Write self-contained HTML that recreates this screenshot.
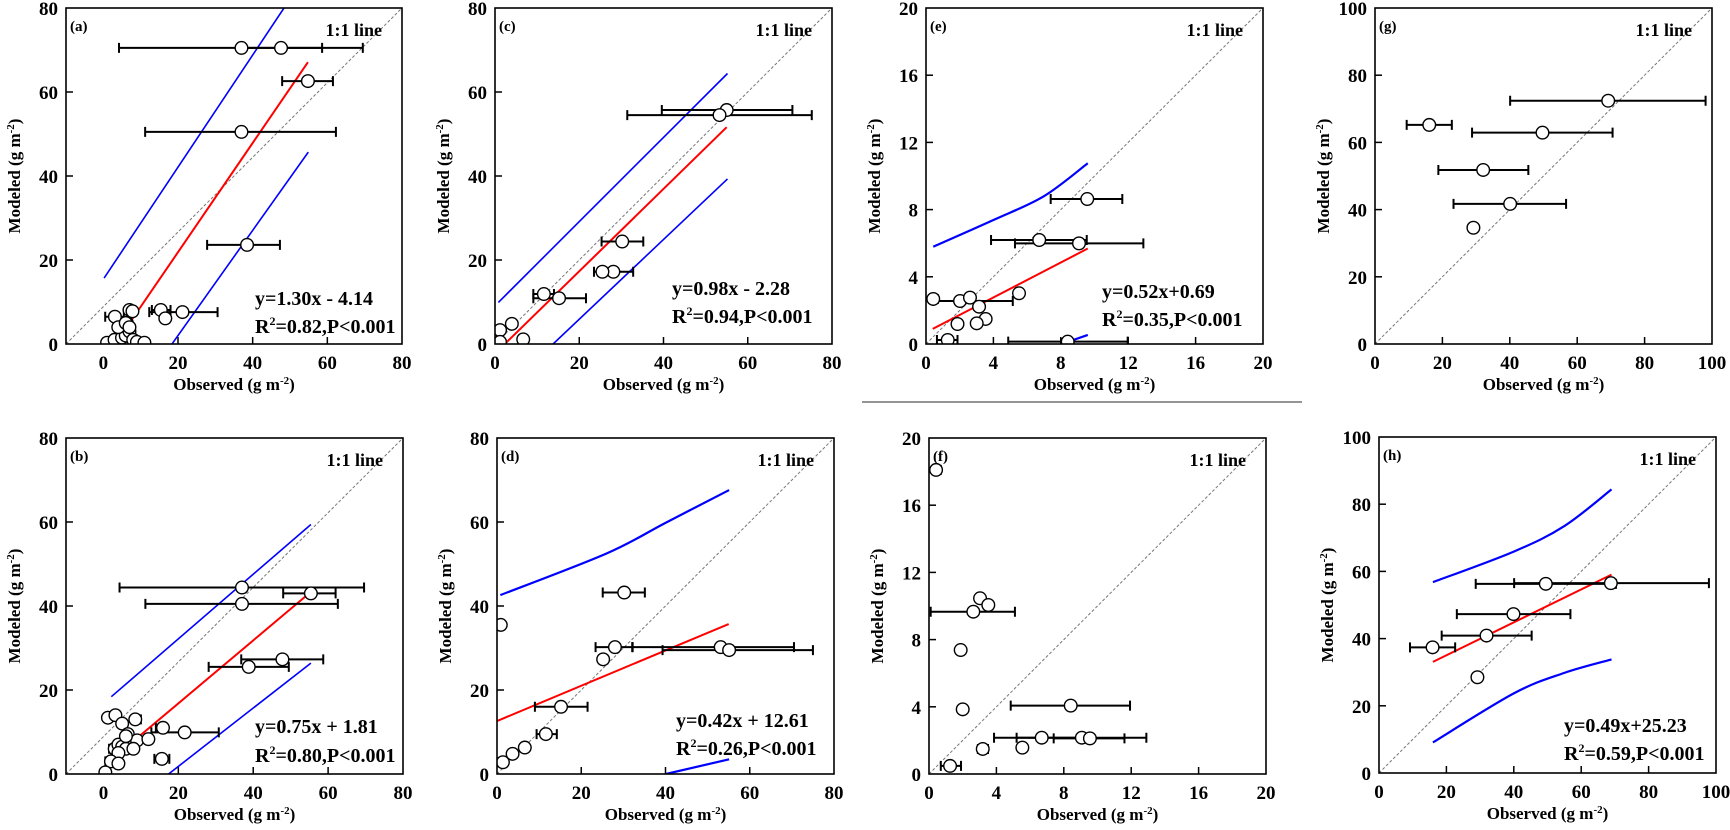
<!DOCTYPE html>
<html><head><meta charset="utf-8">
<style>
body{margin:0;background:#fff;}
svg{display:block;}
svg text{font-family:"Liberation Serif",serif;font-weight:bold;}
</style></head>
<body>
<svg id="fig" width="1730" height="830" viewBox="0 0 1730 830" xmlns="http://www.w3.org/2000/svg" font-family="Liberation Serif, serif" font-weight="bold">
<line x1="862" y1="402" x2="1302" y2="402" stroke="#555" stroke-width="1.2"/>
</svg>
<script>
// ---- data ----
const aObs=[37,47.6,54.8,37,38.5,21.2,15.4,16.6,3.1,7.0,7.8,6.3,1,3,5,6,7,8,9,11,4,6,7];
const aMod=[70.5,70.5,62.6,50.5,23.6,7.6,8.1,6.1,6.5,8.1,7.8,5,0.3,1,1.5,2,3,1,0.5,0.3,4,5,4];
const aLo=[4.2,36.5,47.9,11.2,27.8,12.3,13,null,0.5,null,null,null,null,null,null,null,null,null,null,null,null,null,null];
const aHi=[69.5,58.6,61.5,62.3,47.3,30.6,18,null,5.5,null,null,null,null,null,null,null,null,null,null,null,null,null,null];
const bObs=[37,55.4,37,47.8,38.8,21.7,15.9,15.6,1.2,3.2,5,8.5,6.5,9,12,3,4,5,6,8,4,2,4,0.5,6];
const bMod=[44.4,43,40.5,27.3,25.5,9.9,11,3.6,13.4,14,12,13,9.5,8,8.3,6,7,6.5,6,6,5,3,2.5,0.4,9];
const bLo=[4.3,48,11.2,36.8,28.1,12.8,14,13.6,null,null,null,7.5,null,null,null,1.5,null,null,null,null,null,0.5,null,null,null];
const bHi=[69.6,62,62.6,58.7,49.5,30.8,17,17.6,null,null,null,10,null,null,null,4.5,null,null,null,null,null,3.5,null,null,null];
const cObs=[55,53.3,30.2,28.1,25.5,11.6,15.2,4.0,1.2,6.7,1.2];
const cMod=[55.7,54.5,24.4,17.2,17.2,11.9,10.9,4.8,3.3,1.1,0.5];
const cLo=[39.6,31.4,25.3,23.5,24.5,9.1,9.1,null,null,null,null];
const cHi=[70.6,75.2,35.2,32.8,26.5,14,21.6,null,null,null,null];
const dObs=[30.2,0.9,28.0,53.1,55.1,25.2,15.2,11.6,6.6,3.7,1.4];
const dMod=[43.2,35.5,30.2,30.2,29.5,27.3,16.0,9.5,6.3,4.8,2.8];
const dLo=[25.1,null,23.4,32.2,39.3,24.2,9.0,9.4,null,null,0.4];
const dHi=[35.1,5.3,32.1,70.5,75.0,26.2,21.5,14.2,null,null,2.4];
const eObs=[9.57,6.72,9.08,5.52,0.43,2.02,2.61,3.15,3.54,1.87,3.01,1.29,8.41];
const eMod=[8.63,6.19,5.99,3.02,2.68,2.56,2.76,2.22,1.49,1.19,1.23,0.24,0.14];
const eLo=[7.4,3.86,5.28,5.3,0.2,0.43,null,3.0,null,null,null,0.65,4.88];
const eHi=[11.65,9.54,12.9,5.7,0.7,5.15,null,3.3,null,null,null,1.87,11.97];
const fObs=[0.42,3.03,3.52,2.63,1.88,2.0,8.41,6.69,9.07,9.55,3.19,5.54,1.25];
const fMod=[18.1,10.46,10.06,9.66,7.38,3.85,4.07,2.16,2.16,2.12,1.49,1.57,0.48];
const fLo=[0.2,null,null,0.1,null,null,4.85,3.86,5.2,7.4,2.9,5.4,0.7];
const fHi=[0.7,null,null,5.1,null,null,11.93,9.4,12.9,11.6,3.5,5.7,1.9];
const gObs=[69.2,16.1,49.7,32.1,40.1,29.2];
const gMod=[72.4,65.2,62.9,51.8,41.7,34.6];
const gLo=[40.1,9.4,28.8,18.8,23.3,null];
const gHi=[98.1,22.8,70.5,45.5,56.7,null];
const hObs=[68.8,49.5,39.9,31.9,15.9,29.2];
const hMod=[56.5,56.3,47.3,40.9,37.4,28.5];
const hLo=[40.1,28.7,23.1,18.6,9.2,null];
const hHi=[97.9,70.3,56.8,45.3,22.6,null];
// regression fits: slope, intercept, x range
const fitSlope={a:1.30,b:0.75,c:0.98,d:0.42,e:0.52,h:0.49};
const fitInt={a:-4.14,b:1.81,c:-2.28,d:12.61,e:0.69,h:25.23};
const fitX0={a:3.2,b:2,c:2.3,d:0,e:0.4,h:16};
const fitX1={a:54.8,b:55.4,c:55,d:55,e:9.6,h:69};
// prediction bands (x, y)
const bandUpX={a:[0.2,48.4],b:[2.1,55.4],c:[0.8,55.2],d:[0.8,26,40,55.1],e:[0.43,4,7,9.6],h:[16,40,55,69]};
const bandUpY={a:[15.7,80],b:[18.4,59.4],c:[9.9,64.4],d:[42.6,52.5,59.8,67.6],e:[5.79,7.38,8.8,10.76],h:[56.8,65.9,73.5,84.4]};
const bandLoX={a:[18.4,54.9],b:[17.4,55.4],c:[13.8,55.2],d:[40.1,55.1],e:[8.05,9.6],h:[16,40,55,69]};
const bandLoY={a:[0,45.7],b:[0,26.4],c:[0,39.3],d:[0,3.5],e:[0,0.54],h:[9.1,23.7,29.8,33.8]};
const eqText={a:["y=1.30x - 4.14","0.82"],b:["y=0.75x + 1.81","0.80"],c:["y=0.98x - 2.28","0.94"],d:["y=0.42x + 12.61","0.26"],e:["y=0.52x+0.69","0.35"],h:["y=0.49x+25.23","0.59"]};
const ticksA=[0,20,40,60,80], ticksE=[0,4,8,12,16,20], ticksG=[0,20,40,60,80,100];

// ---- layout ----
const panels=[
 {k:'a',L:66,R:402,T:8,B:344,x0:-10,x1:80,y1:80,xt:ticksA,yt:ticksA,o:aObs,m:aMod,lo:aLo,hi:aHi,eqx:189,eqb:[39,11],bw:1.6},
 {k:'b',L:66,R:403,T:438,B:774,x0:-10,x1:80,y1:80,xt:ticksA,yt:ticksA,o:bObs,m:bMod,lo:bLo,hi:bHi,eqx:189,eqb:[41,12],bw:1.6},
 {k:'c',L:495,R:832,T:8,B:344,x0:0,x1:80,y1:80,xt:ticksA,yt:ticksA,o:cObs,m:cMod,lo:cLo,hi:cHi,eqx:177,eqb:[49,21],bw:1.6},
 {k:'d',L:497,R:834,T:438,B:774,x0:0,x1:80,y1:80,xt:ticksA,yt:ticksA,o:dObs,m:dMod,lo:dLo,hi:dHi,eqx:179,eqb:[47,19],bw:2.2},
 {k:'e',L:926,R:1263,T:8,B:344,x0:0,x1:20,y1:20,xt:ticksE,yt:ticksE,o:eObs,m:eMod,lo:eLo,hi:eHi,eqx:176,eqb:[46,18],bw:2.2},
 {k:'f',L:929,R:1266,T:438,B:774,x0:0,x1:20,y1:20,xt:ticksE,yt:ticksE,o:fObs,m:fMod,lo:fLo,hi:fHi},
 {k:'g',L:1375,R:1712,T:8,B:344,x0:0,x1:100,y1:100,xt:ticksG,yt:ticksG,o:gObs,m:gMod,lo:gLo,hi:gHi},
 {k:'h',L:1379,R:1716,T:437,B:773,x0:0,x1:100,y1:100,xt:ticksG,yt:ticksG,o:hObs,m:hMod,lo:hLo,hi:hHi,eqx:185,eqb:[41,13],bw:2.2}
];
const NS='http://www.w3.org/2000/svg';
const svg=document.getElementById('fig');
function mk(tag,attrs,parent){const e=document.createElementNS(NS,tag);for(const a in attrs)e.setAttribute(a,attrs[a]);(parent||svg).appendChild(e);return e;}
function smooth(pts){
  if(pts.length<3){return 'M'+pts.map(p=>p[0].toFixed(1)+','+p[1].toFixed(1)).join(' L');}
  let d='M'+pts[0][0]+','+pts[0][1];
  for(let i=0;i<pts.length-1;i++){
    const p0=pts[Math.max(0,i-1)],p1=pts[i],p2=pts[i+1],p3=pts[Math.min(pts.length-1,i+2)];
    const c1=[p1[0]+(p2[0]-p0[0])/6,p1[1]+(p2[1]-p0[1])/6];
    const c2=[p2[0]-(p3[0]-p1[0])/6,p2[1]-(p3[1]-p1[1])/6];
    d+=' C'+c1.join(',')+' '+c2.join(',')+' '+p2.join(',');
  }
  return d;
}
panels.forEach(P=>{
  const sx=v=>P.L+(v-P.x0)/(P.x1-P.x0)*(P.R-P.L);
  const sy=v=>P.B-v/P.y1*(P.B-P.T);
  const g=mk('g',{});
  
  
  P.xt.forEach(t=>{
    const x=sx(t);
    if(t>P.x0&&t<P.x1){const tk=mk('line',{x1:x,x2:x,y1:P.B,y2:P.B-7,stroke:'#000','stroke-width':1.5},g);
      }
    const tl=mk('text',{x:x,y:P.B+25,'text-anchor':'middle','font-size':19},g);tl.textContent=t;
    
  });
  P.yt.forEach(t=>{
    const y=sy(t);
    if(t>0&&t<P.y1){const tk=mk('line',{x1:P.L,x2:P.L+7,y1:y,y2:y,stroke:'#000','stroke-width':1.5},g);
      }
    const tl=mk('text',{x:P.L-8,y:y+7,'text-anchor':'end','font-size':19},g);tl.textContent=t;
    
  });
  const xtT=mk('text',{x:(P.L+P.R)/2,y:P.B+46,'text-anchor':'middle','font-size':17},g);
  xtT.innerHTML='Observed (g m<tspan dy="-6" font-size="11">-2</tspan><tspan dy="6">)</tspan>';
  
  const cy=(P.T+P.B)/2, cx=P.L-46;
  const ytT=mk('text',{x:cx,y:cy,'text-anchor':'middle','font-size':17,transform:'rotate(-90 '+cx+' '+cy+')'},g);
  ytT.innerHTML='Modeled (g m<tspan dy="-6" font-size="11">-2</tspan><tspan dy="6">)</tspan>';
  
  const cp=mk('clipPath',{id:'clip'+P.k},g);mk('rect',{x:P.L,y:P.T,width:P.R-P.L,height:P.B-P.T},cp);
  const plot=mk('g',{'clip-path':'url(#clip'+P.k+')'},g);
  
  
  const one=mk('line',{x1:P.L,y1:P.B,x2:P.R,y2:P.T,stroke:'#777','stroke-width':1,'stroke-dasharray':'3,2'},plot);
  
  if(bandUpX[P.k]){
    const up=mk('path',{d:smooth(bandUpX[P.k].map((x,i)=>[sx(x),sy(bandUpY[P.k][i])])),fill:'none',stroke:'#0000ff','stroke-width':P.bw},plot);
    
    const lo=mk('path',{d:smooth(bandLoX[P.k].map((x,i)=>[sx(x),sy(bandLoY[P.k][i])])),fill:'none',stroke:'#0000ff','stroke-width':P.bw},plot);
    
  }
  if(fitSlope[P.k]!==undefined){
    const a=fitSlope[P.k],b=fitInt[P.k],x0=fitX0[P.k],x1=fitX1[P.k];
    const fl=mk('line',{x1:sx(x0),y1:sy(a*x0+b),x2:sx(x1),y2:sy(a*x1+b),stroke:'#ff0000','stroke-width':2},plot);
    
  }
  P.o.forEach((o,i)=>{
    const y=sy(P.m[i]);
    if(P.lo[i]!=null){
      const eb=mk('path',{d:`M${sx(P.lo[i])},${y}H${sx(P.hi[i])}M${sx(P.lo[i])},${y-5}V${y+5}M${sx(P.hi[i])},${y-5}V${y+5}`,stroke:'#000','stroke-width':2,fill:'none'},plot);
      
    }
  });
  P.o.forEach((o,i)=>{
    const c=mk('circle',{cx:sx(o),cy:sy(P.m[i]),r:6.3,fill:'#fff',stroke:'#000','stroke-width':1.4},plot);
    
  });
  const fr=mk('rect',{x:P.L,y:P.T,width:P.R-P.L,height:P.B-P.T,fill:'none',stroke:'#000','stroke-width':1.6},g);
  
  const pl=mk('text',{x:P.L+4,y:P.T+23,'font-size':15},g);pl.textContent='('+P.k+')';
  
  const ll=mk('text',{x:P.R-20,y:P.T+28,'text-anchor':'end','font-size':18},g);ll.textContent='1:1 line';
  
  if(eqText[P.k]){
    const e1=mk('text',{x:P.L+P.eqx,y:P.B-P.eqb[0],'font-size':20},g);e1.textContent=eqText[P.k][0];
    
    const e2=mk('text',{x:P.L+P.eqx,y:P.B-P.eqb[1],'font-size':20},g);
    e2.innerHTML='R<tspan dy="-8" font-size="12">2</tspan><tspan dy="8">='+eqText[P.k][1]+',P&lt;0.001</tspan>';
    
  }
});
</script>
</body></html>
